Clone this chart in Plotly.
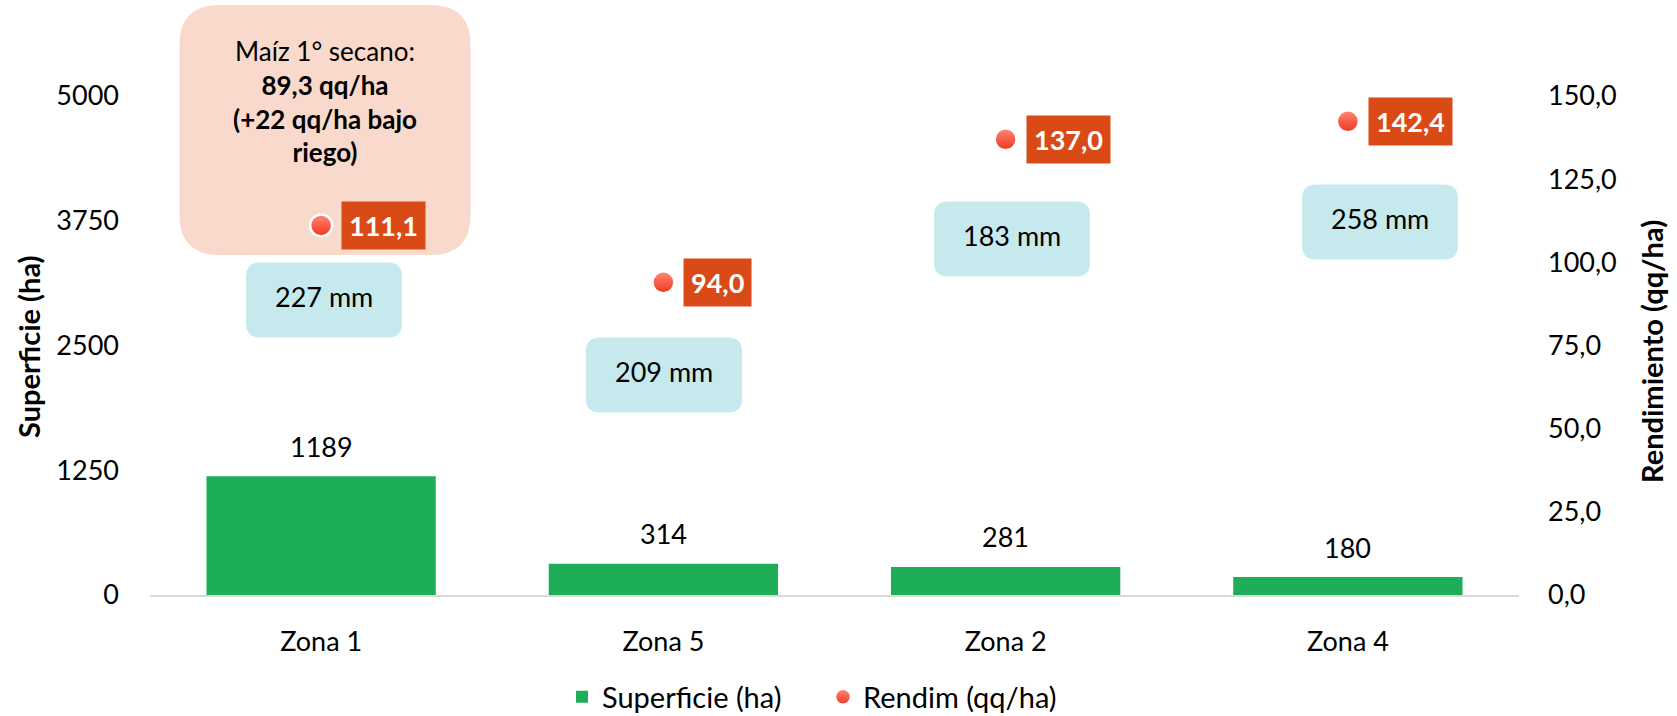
import plotly.graph_objects as go

# data
zonas = ["Zona 1", "Zona 5", "Zona 2", "Zona 4"]
superficie = [1189, 314, 281, 180]
rendim = [111.1, 94.0, 137.0, 142.4]
lluvia_mm = [227, 209, 183, 258]

sup_ticks = [0, 1250, 2500, 3750, 5000]
rend_ticks = [0, 25, 50, 75, 100, 125, 150]

nota_titulo = "Maíz 1° secano:"
nota_lineas = ["89,3 qq/ha", "(+22 qq/ha bajo", "riego)"]

# layout geometry (pixels)
W, H = 1677, 716
ML, MR, MT, MB = 150, 158, 0, 121
PLOT_W = W - ML - MR
PLOT_H = H - MT - MB
PX_5000 = 499.0  # pixel height of 5000 ha on the left axis
Y_TOP = 5000 * PLOT_H / PX_5000
Y2_TOP = 150 * PLOT_H / PX_5000

FONT = "Lato"
FS = 27
GREEN = "#1DAE57"
RED_LABEL = "#D94A17"
BLUE_BOX = "#C5E9ED"
PEACH = "#F9D9CC"


def fmt_es(v):
    return f"{v:.1f}".replace(".", ",")


def px_x(xpx):
    return (xpx - ML) / PLOT_W


def px_y(ypx):
    return (MT + PLOT_H - ypx) / PLOT_H


def rounded_path(w, h, r):
    a, b = w / 2, h / 2
    return (f"M {-a + r},{-b} L {a - r},{-b} Q {a},{-b} {a},{-b + r} "
            f"L {a},{b - r} Q {a},{b} {a - r},{b} L {-a + r},{b} "
            f"Q {-a},{b} {-a},{b - r} L {-a},{-b + r} Q {-a},{-b} {-a + r},{-b} Z")


def text_at(xpx, ypx, text, size=FS, angle=0):
    return dict(x=px_x(xpx), y=px_y(ypx), xref="paper", yref="paper",
                xanchor="center", yanchor="middle", text=text, textangle=angle,
                showarrow=False, align="center", font=dict(size=size, color="black"))


fig = go.Figure()

fig.add_trace(go.Bar(
    x=zonas, y=superficie, name="Superficie (ha)",
    marker=dict(color=GREEN, line=dict(width=0)),
    yaxis="y",
))

fig.add_trace(go.Scatter(
    x=zonas, y=rendim, name="Rendim (qq/ha)", mode="markers",
    marker=dict(size=22, color="#FF8A78", line=dict(color="white", width=2.5),
                gradient=dict(type="vertical", color="#F0351E")),
    yaxis="y2",
))

annotations = []
shapes = []

# bar value labels
for z, v in zip(zonas, superficie):
    annotations.append(dict(x=z, y=v, xref="x", yref="y", text=str(v),
                            showarrow=False, yshift=30, yanchor="middle",
                            font=dict(size=FS, color="black")))

# rendimiento labels
for z, v in zip(zonas, rendim):
    annotations.append(dict(x=z, y=v, xref="x", yref="y2", text=f"<b>{fmt_es(v)}</b>",
                            showarrow=False, xanchor="left", yanchor="middle", xshift=20,
                            bgcolor=RED_LABEL, borderpad=7,
                            font=dict(size=FS, color="white")))

# peach note box
shapes.append(dict(type="path", xref="paper", yref="paper",
                   xsizemode="pixel", ysizemode="pixel",
                   xanchor=px_x(325), yanchor=px_y(130),
                   path=rounded_path(291, 250, 40),
                   fillcolor=PEACH, line=dict(width=0), layer="below"))
nota = nota_titulo + "<br>" + "<br>".join(f"<b>{t}</b>" for t in nota_lineas)
annotations.append(text_at(325, 102, nota, size=FS - 1))

# rainfall boxes
mm_centers = [(324, 300), (664, 375), (1012, 239), (1380, 222)]
for mm, (cx, cy) in zip(lluvia_mm, mm_centers):
    shapes.append(dict(type="path", xref="paper", yref="paper",
                       xsizemode="pixel", ysizemode="pixel",
                       xanchor=px_x(cx), yanchor=px_y(cy),
                       path=rounded_path(156, 75, 14),
                       fillcolor=BLUE_BOX, line=dict(width=0), layer="below"))
    annotations.append(text_at(cx, cy - 4, f"{mm} mm"))

# axis titles
annotations.append(text_at(29, 347, "<b>Superficie (ha)</b>", size=29, angle=-90))
annotations.append(text_at(1651, 352, "<b>Rendimiento (qq/ha)</b>", size=29, angle=-90))

fig.update_layout(
    width=W, height=H,
    margin=dict(l=ML, r=MR, t=MT, b=MB, autoexpand=False),
    paper_bgcolor="white", plot_bgcolor="white",
    font=dict(family=FONT, size=FS, color="black"),
    bargap=0.33,
    showlegend=True,
    legend=dict(orientation="h", x=px_x(562), xanchor="left", y=px_y(697), yanchor="middle",
                font=dict(size=29), traceorder="normal",
                entrywidth=216, entrywidthmode="pixels"),
    xaxis=dict(showline=True, linecolor="#D9D9D9", linewidth=2, showgrid=False,
               ticks="", ticklabelstandoff=22, zeroline=False, automargin=False),
    yaxis=dict(range=[0, Y_TOP], tickvals=sup_ticks, ticktext=[str(t) for t in sup_ticks],
               showgrid=False, zeroline=False, showline=False, ticks="",
               ticklabelstandoff=30, automargin=False),
    yaxis2=dict(range=[0, Y2_TOP], tickvals=rend_ticks, ticktext=[fmt_es(t) for t in rend_ticks],
                overlaying="y", side="right", showgrid=False, zeroline=False,
                showline=False, ticks="", ticklabelstandoff=28, automargin=False),
    annotations=annotations,
    shapes=shapes,
)

# page body has a default margin; remove it so the figure fills the window
fig.write_html("out.html", config={"displayModeBar": False},
               post_script="document.body.style.margin='0';document.body.style.overflow='hidden';")
